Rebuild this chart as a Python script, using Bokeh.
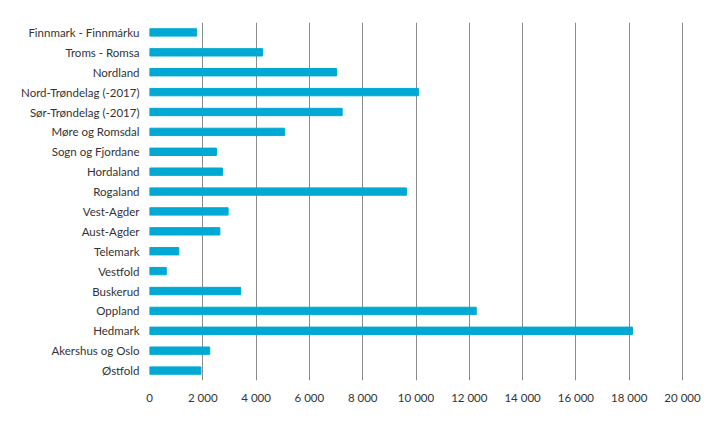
from bokeh.plotting import figure
from bokeh.models import FixedTicker, Range1d
from bokeh.embed import file_html
from bokeh.resources import INLINE

# Data (top-to-bottom order as displayed)
regions = [
    "Finnmark - Finnmárku", "Troms - Romsa", "Nordland", "Nord-Trøndelag (-2017)",
    "Sør-Trøndelag (-2017)", "Møre og Romsdal", "Sogn og Fjordane", "Hordaland",
    "Rogaland", "Vest-Agder", "Aust-Agder", "Telemark", "Vestfold", "Buskerud",
    "Oppland", "Hedmark", "Akershus og Oslo", "Østfold",
]
values = [1770, 4240, 7020, 10090, 7230, 5070, 2510, 2740, 9640, 2950, 2640,
          1100, 630, 3420, 12260, 18120, 2260, 1930]
tick_values = [0, 2000, 4000, 6000, 8000, 10000, 12000, 14000, 16000, 18000, 20000]
tick_labels = ["0", "2 000", "4 000", "6 000", "8 000", "10 000", "12 000",
               "14 000", "16 000", "18 000", "20 000"]

factors = list(reversed(regions))

p = figure(
    y_range=factors, x_range=Range1d(0, 20600),
    width=706, height=413, output_backend="svg", toolbar_location=None,
    frame_width=549, frame_height=358,
    min_border_left=149, min_border_top=22, min_border_right=8, min_border_bottom=33,
)
p.hbar(y=regions, right=values, left=0, height=0.37, color="#00a9d3")

p.outline_line_color = None
p.ygrid.grid_line_color = None
p.xgrid.grid_line_color = "#8c8c8c"
p.xgrid.grid_line_width = 1
p.xaxis.ticker = FixedTicker(ticks=tick_values)
p.xaxis.major_label_overrides = {t: l for t, l in zip(tick_values, tick_labels)}

for ax in (p.xaxis, p.yaxis):
    ax.axis_line_color = None
    ax.major_tick_line_color = None
    ax.minor_tick_line_color = None
    ax.major_tick_out = 0
    ax.major_tick_in = 0
    ax.major_label_text_font = "Lato"
    ax.major_label_text_font_size = "11.5px"
    ax.major_label_text_color = "#333333"
p.xaxis.major_label_standoff = 10
p.yaxis.major_label_standoff = 10
p.y_range.range_padding = 0

open("out.html", "w").write(file_html(p, INLINE))
